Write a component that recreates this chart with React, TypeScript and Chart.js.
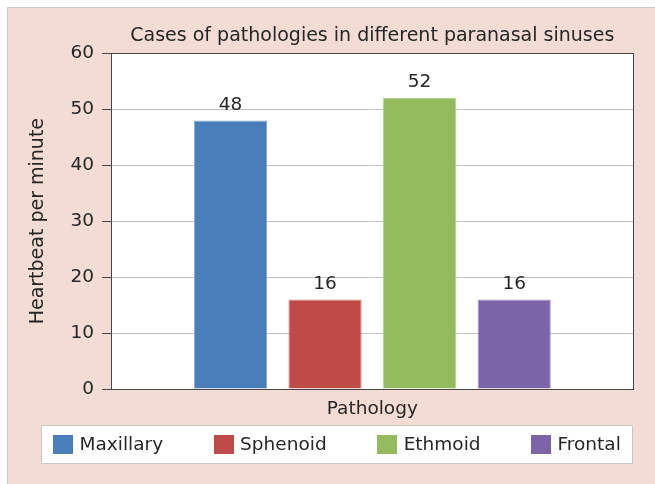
import React, { useEffect, useRef } from 'react';
import { Chart, registerables } from 'chart.js';

Chart.register(...registerables);

// ---- data ----
const categories = ['Pathology'];
const seriesNames = ['Maxillary', 'Sphenoid', 'Ethmoid', 'Frontal'];
const seriesValues = [48, 16, 52, 16];
const seriesColors = ['#4A7EBB', '#BE4B48', '#94BC5E', '#7B64A7'];
const seriesBorders = ['#86A9D6', '#D4817E', '#B7D497', '#A592C6'];
const yMin = 0;
const yMax = 60;
const yStep = 10;
const titleText = 'Cases of pathologies in different paranasal sinuses';
const yTitleText = 'Heartbeat per minute';

const FONT = "'DejaVu Sans', 'Liberation Sans', Arial, sans-serif";
const FS = 18.5;
const FS_TITLE = 19;
const TEXT = '#262626';

const align = (v: number) => Math.round(v - 0.5) + 0.5;

const plotFrame = {
  id: 'plotFrame',
  beforeDraw(chart: any) {
    const { ctx, chartArea: a } = chart;
    ctx.save();
    ctx.fillStyle = '#ffffff';
    ctx.fillRect(a.left, a.top, a.right - a.left, a.bottom - a.top);
    ctx.restore();
  },
  afterDatasetsDraw(chart: any) {
    const { ctx, chartArea: a } = chart;
    ctx.save();
    ctx.strokeStyle = '#474747';
    ctx.lineWidth = 1;
    const l = align(a.left), t = align(a.top), r = align(a.right), b = align(a.bottom);
    ctx.strokeRect(l, t, r - l, b - t);
    ctx.restore();
  },
};

const valueLabels = {
  id: 'valueLabels',
  afterDatasetsDraw(chart: any) {
    const { ctx } = chart;
    ctx.save();
    ctx.font = `${FS}px ${FONT}`;
    ctx.fillStyle = TEXT;
    ctx.textAlign = 'center';
    ctx.textBaseline = 'middle';
    chart.data.datasets.forEach((ds: any, i: number) => {
      const meta = chart.getDatasetMeta(i);
      meta.data.forEach((el: any, j: number) => {
        ctx.fillText(String(ds.data[j]), el.x, el.y - 15.5);
      });
    });
    ctx.restore();
  },
};

const boxLegend = {
  id: 'boxLegend',
  afterDraw(chart: any) {
    const { ctx, chartArea: a } = chart;
    const xs = chart.scales.x;
    const left = a.left - 70.4;
    const right = a.right - 0.4;
    const top = xs.bottom - 3.5;
    const height = 38.3;
    ctx.save();
    ctx.fillStyle = '#ffffff';
    ctx.fillRect(left, top, right - left, height);
    ctx.strokeStyle = '#C8C8C8';
    ctx.lineWidth = 1;
    ctx.strokeRect(align(left), align(top), Math.round(right - left), Math.round(height));
    ctx.font = `${FS}px ${FONT}`;
    const sq = 20, sqH = 19, gapText = 6.5, gapItem = 50.5;
    const items = chart.data.datasets.map((ds: any) => ({
      label: ds.label,
      color: ds.backgroundColor,
      w: ctx.measureText(ds.label).width,
    }));
    const total = items.reduce((s: number, it: any) => s + sq + gapText + it.w, 0) + gapItem * (items.length - 1);
    const cx = (left + right) / 2;
    const cy = top + height / 2;
    let x = cx - total / 2;
    ctx.textAlign = 'left';
    ctx.textBaseline = 'middle';
    items.forEach((it: any) => {
      ctx.fillStyle = it.color;
      ctx.fillRect(Math.round(x), Math.round(cy - sqH / 2), sq, sqH);
      ctx.fillStyle = TEXT;
      ctx.fillText(it.label, x + sq + gapText, cy);
      x += sq + gapText + it.w + gapItem;
    });
    ctx.restore();
  },
};

export default function App() {
  const ref = useRef<HTMLCanvasElement | null>(null);

  useEffect(() => {
    if (!ref.current) return;
    const chart = new Chart(ref.current, {
      type: 'bar',
      data: {
        labels: categories,
        datasets: seriesNames.map((name, i) => ({
          label: name,
          data: [seriesValues[i]],
          backgroundColor: seriesColors[i],
          borderColor: seriesBorders[i],
          borderWidth: 1,
        })),
      },
      options: {
        responsive: false,
        animation: false,
        devicePixelRatio: 1,
        layout: { padding: { left: 18.4, right: 22, top: 0, bottom: 54.8 } },
        datasets: { bar: { categoryPercentage: 0.7257, barPercentage: 0.774 } } as any,
        plugins: {
          legend: { display: false },
          tooltip: { enabled: false },
          title: {
            display: true,
            text: titleText,
            fullSize: false,
            color: TEXT,
            font: { family: FONT, size: FS_TITLE, weight: 'normal', lineHeight: 1.2 },
            padding: { top: 17, bottom: 5.5 },
          },
        },
        scales: {
          x: {
            type: 'category',
            grid: { display: false, drawTicks: false },
            border: { display: false },
            ticks: {
              color: TEXT,
              padding: 9,
              font: { family: FONT, size: FS, lineHeight: 1.2 },
            },
          },
          y: {
            min: yMin,
            max: yMax,
            grid: {
              color: '#C0C0C0',
              tickColor: '#474747',
              tickLength: 9.5,
              drawTicks: true,
              lineWidth: 1,
            },
            border: { display: false },
            ticks: {
              stepSize: yStep,
              color: TEXT,
              padding: 8,
              font: { family: FONT, size: FS, lineHeight: 1.2 },
            },
            title: {
              display: true,
              text: yTitleText,
              color: TEXT,
              font: { family: FONT, size: FS_TITLE, lineHeight: 1.2 },
              padding: { top: 0, bottom: 13.4 },
            },
          },
        },
      },
      plugins: [plotFrame, valueLabels, boxLegend],
    });
    return () => chart.destroy();
  }, []);

  return (
    <div
      style={{
        position: 'fixed',
        left: 7,
        top: 7,
        right: 0,
        bottom: 0,
        background: '#F2DCD4',
        borderLeft: '1px solid #C9C9C9',
        borderTop: '1px solid #C9C9C9',
      }}
    >
      <canvas ref={ref} width={647} height={476} style={{ display: 'block' }} />
    </div>
  );
}
